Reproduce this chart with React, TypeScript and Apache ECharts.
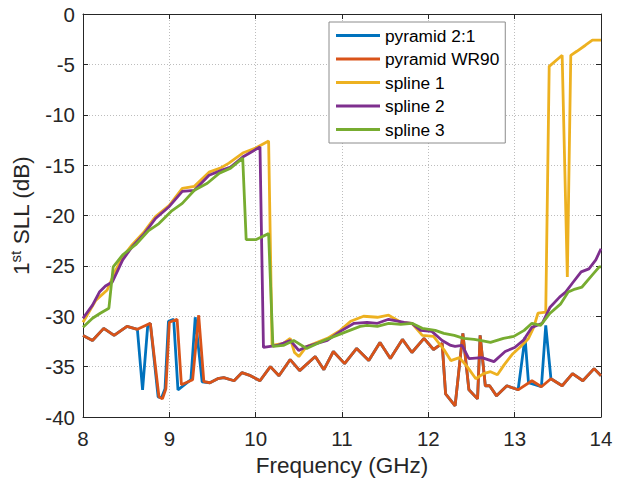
import React, { useEffect, useRef } from "react";
import * as echarts from "echarts";

// ---- data (GHz, dB) ----
const seriesNames = ["pyramid 2:1", "pyramid WR90", "spline 1", "spline 2", "spline 3"];
const seriesColors = ["#0072BD", "#D95319", "#EDB120", "#7E2F8E", "#77AC30"];

const pyr21Freq = [8.00, 8.11, 8.24, 8.36, 8.51, 8.63, 8.69, 8.75, 8.78, 8.87, 8.91, 8.95, 8.99, 9.05, 9.10, 9.25, 9.30, 9.38, 9.47, 9.56, 9.63, 9.75, 9.84, 9.94, 10.05, 10.17, 10.27, 10.40, 10.51, 10.69, 10.79, 10.90, 11.03, 11.17, 11.31, 11.44, 11.56, 11.70, 11.81, 11.95, 12.06, 12.16, 12.20, 12.31, 12.40, 12.47, 12.57, 12.60, 12.66, 12.71, 12.79, 12.91, 13.04, 13.12, 13.16, 13.31, 13.36, 13.42, 13.55, 13.67, 13.79, 13.92, 14.00];
const pyr21Val = [-31.9, -32.4, -31.2, -31.9, -31.0, -31.3, -37.3, -30.9, -30.7, -38.0, -38.1, -37.2, -30.5, -30.3, -37.3, -36.3, -30.1, -36.5, -36.6, -36.2, -36.1, -36.4, -35.6, -35.9, -36.4, -35.0, -35.9, -34.3, -35.4, -34.0, -35.3, -33.5, -34.7, -33.2, -34.4, -32.6, -34.2, -32.3, -33.6, -32.2, -33.3, -32.7, -37.7, -38.9, -31.7, -37.3, -38.2, -31.9, -36.9, -36.9, -37.9, -36.9, -37.3, -32.1, -36.6, -37.0, -30.9, -36.2, -36.9, -35.7, -36.4, -35.2, -35.9];

const pyrWR90Freq = [8.00, 8.11, 8.24, 8.36, 8.51, 8.63, 8.78, 8.88, 8.92, 8.96, 9.00, 9.09, 9.14, 9.27, 9.34, 9.40, 9.47, 9.56, 9.63, 9.75, 9.84, 9.94, 10.05, 10.17, 10.27, 10.40, 10.51, 10.69, 10.79, 10.90, 11.03, 11.17, 11.31, 11.44, 11.56, 11.70, 11.81, 11.95, 12.06, 12.16, 12.20, 12.31, 12.40, 12.47, 12.57, 12.60, 12.66, 12.71, 12.79, 12.91, 13.04, 13.20, 13.31, 13.42, 13.55, 13.67, 13.79, 13.92, 14.00];
const pyrWR90Val = [-31.9, -32.4, -31.2, -31.9, -31.0, -31.3, -30.7, -38.0, -38.2, -37.2, -30.6, -30.3, -36.8, -36.3, -29.9, -36.5, -36.6, -36.2, -36.1, -36.4, -35.6, -35.9, -36.4, -35.0, -35.9, -34.3, -35.4, -34.0, -35.3, -33.5, -34.7, -33.2, -34.4, -32.6, -34.2, -32.3, -33.6, -32.2, -33.3, -32.7, -37.7, -38.9, -31.7, -37.3, -38.2, -31.9, -36.9, -36.9, -37.9, -36.9, -37.3, -36.4, -37.0, -36.2, -36.9, -35.7, -36.4, -35.2, -35.9];

const spline1Freq = [8.00, 8.15, 8.28, 8.38, 8.46, 8.57, 8.71, 8.84, 9.00, 9.15, 9.29, 9.46, 9.59, 9.69, 9.85, 10.00, 10.15, 10.19, 10.32, 10.40, 10.45, 10.50, 10.59, 10.83, 10.98, 11.10, 11.25, 11.41, 11.54, 11.68, 11.81, 11.93, 12.06, 12.18, 12.26, 12.36, 12.45, 12.55, 12.64, 12.72, 12.80, 12.88, 12.97, 13.07, 13.16, 13.22, 13.27, 13.36, 13.40, 13.55, 13.61, 13.65, 13.72, 13.82, 13.90, 14.00];
const spline1Val = [-30.6, -28.4, -27.4, -25.4, -24.1, -22.9, -21.6, -20.1, -19.0, -17.3, -17.1, -15.7, -15.3, -14.8, -13.8, -13.3, -12.6, -32.9, -32.7, -32.2, -33.6, -34.0, -33.0, -32.2, -31.4, -30.5, -30.0, -30.1, -29.9, -30.6, -30.7, -31.9, -32.0, -33.3, -34.4, -34.1, -35.0, -36.2, -35.7, -35.5, -35.8, -34.8, -33.8, -33.0, -32.2, -31.1, -29.7, -29.6, -5.2, -4.1, -26.1, -4.1, -3.7, -3.1, -2.6, -2.6];

const spline2Freq = [8.00, 8.11, 8.19, 8.26, 8.34, 8.46, 8.57, 8.71, 8.84, 9.00, 9.15, 9.29, 9.46, 9.61, 9.71, 9.85, 10.05, 10.09, 10.25, 10.40, 10.50, 10.59, 10.83, 10.98, 11.14, 11.29, 11.41, 11.54, 11.72, 11.81, 11.91, 12.04, 12.16, 12.26, 12.31, 12.39, 12.47, 12.62, 12.76, 12.89, 13.00, 13.10, 13.20, 13.32, 13.41, 13.52, 13.59, 13.67, 13.77, 13.86, 13.94, 14.00];
const spline2Val = [-30.2, -28.9, -27.6, -27.0, -26.6, -24.4, -23.1, -21.8, -20.3, -19.1, -17.6, -17.5, -16.0, -15.5, -15.2, -14.2, -13.2, -33.1, -32.9, -32.4, -33.4, -33.0, -32.4, -31.5, -30.7, -30.6, -30.7, -30.3, -30.6, -30.7, -31.4, -31.5, -32.4, -32.9, -33.0, -32.9, -34.2, -34.1, -34.5, -33.5, -33.1, -32.4, -31.1, -30.7, -29.1, -28.1, -27.6, -26.7, -25.6, -25.3, -24.4, -23.3];

const spline3Freq = [8.00, 8.11, 8.20, 8.30, 8.35, 8.46, 8.61, 8.76, 8.88, 9.02, 9.15, 9.29, 9.44, 9.58, 9.71, 9.85, 9.89, 10.00, 10.15, 10.20, 10.32, 10.44, 10.59, 10.79, 11.06, 11.21, 11.29, 11.41, 11.54, 11.68, 11.81, 11.93, 12.08, 12.18, 12.30, 12.41, 12.53, 12.60, 12.72, 12.87, 12.99, 13.11, 13.20, 13.30, 13.41, 13.53, 13.62, 13.70, 13.78, 13.90, 13.98, 14.00];
const spline3Val = [-31.1, -30.2, -29.7, -29.2, -25.1, -23.9, -22.9, -21.5, -20.8, -19.6, -18.8, -17.5, -16.8, -15.8, -15.3, -14.3, -22.4, -22.4, -21.8, -33.0, -32.9, -32.4, -33.2, -32.4, -31.5, -31.0, -30.9, -31.0, -30.7, -30.8, -30.7, -31.2, -31.4, -31.7, -31.9, -32.2, -32.3, -32.4, -32.6, -32.2, -32.0, -31.4, -30.7, -30.9, -29.7, -28.8, -27.6, -27.3, -27.1, -25.9, -25.1, -25.1];

const xTicks = [8, 9, 10, 11, 12, 13, 14];
const yTicks = [-40, -35, -30, -25, -20, -15, -10, -5, 0];

const allFreq = [pyr21Freq, pyrWR90Freq, spline1Freq, spline2Freq, spline3Freq];
const allVal = [pyr21Val, pyrWR90Val, spline1Val, spline2Val, spline3Val];

const FONT = "Liberation Sans, Arial, Helvetica, sans-serif";
const AXIS_COLOR = "#262626";

export default function App() {
  const ref = useRef<HTMLDivElement>(null);
  useEffect(() => {
    if (!ref.current) return;
    const chart = echarts.init(ref.current, undefined, { renderer: "svg" });
    const xMin = xTicks[0];
    const xMax = xTicks[xTicks.length - 1];
    const yMin = yTicks[0];
    const yMax = yTicks[yTicks.length - 1];
    const baseAxis = {
      axisLine: { show: true, onZero: false, lineStyle: { color: AXIS_COLOR, width: 1 } },
      axisTick: { show: true, inside: true, length: 5, lineStyle: { color: AXIS_COLOR } },
    };
    const option: any = {
      animation: false,
      backgroundColor: "#ffffff",
      grid: { left: 83, right: 27, top: 14, bottom: 65, containLabel: false },
      legend: {
        show: true,
        orient: "vertical",
        left: 329,
        top: 22,
        width: 177,
        padding: [5, 6, 5, 7],
        itemGap: 6.5,
        itemWidth: 44,
        itemHeight: 3,
        icon: "rect",
        selectedMode: false,
        backgroundColor: "#ffffff",
        borderColor: "#8c8c8c",
        borderWidth: 1,
        borderRadius: 0,
        textStyle: { fontFamily: FONT, fontSize: 17.3, color: "#000", lineHeight: 17, padding: [0, 0, 0, 0] },
        data: seriesNames,
      },
      xAxis: [
        {
          ...baseAxis,
          type: "value",
          min: xMin,
          max: xMax,
          interval: 1,
          position: "bottom",
          name: "Frequency (GHz)",
          nameLocation: "middle",
          nameGap: 36,
          nameTextStyle: { fontFamily: FONT, fontSize: 22.5, color: AXIS_COLOR },
          axisLabel: { fontFamily: FONT, fontSize: 20.5, color: AXIS_COLOR, margin: 11 },
          splitLine: { show: true, lineStyle: { color: "#bdbdbd", type: [1, 2], width: 1 } },
        },
        {
          ...baseAxis,
          type: "value",
          min: xMin,
          max: xMax,
          interval: 1,
          position: "top",
          axisLabel: { show: false },
          splitLine: { show: false },
        },
      ],
      yAxis: [
        {
          ...baseAxis,
          type: "value",
          min: yMin,
          max: yMax,
          interval: 5,
          position: "left",
          name: "1{sup|st} SLL (dB)",
          nameLocation: "middle",
          nameGap: 35,
          nameRotate: 90,
          nameTextStyle: {
            fontFamily: FONT,
            fontSize: 22.5,
            color: AXIS_COLOR,
            lineHeight: 26,
            rich: {
              sup: { fontFamily: FONT, fontSize: 15, color: AXIS_COLOR, verticalAlign: "top", lineHeight: 15 },
            },
          },
          axisLabel: { fontFamily: FONT, fontSize: 20.5, color: AXIS_COLOR, margin: 8 },
          splitLine: { show: true, lineStyle: { color: "#bdbdbd", type: [1, 2], width: 1 } },
        },
        {
          ...baseAxis,
          type: "value",
          min: yMin,
          max: yMax,
          interval: 5,
          position: "right",
          axisLabel: { show: false },
          splitLine: { show: false },
        },
      ],
      series: seriesNames.map((name, i) => ({
        name,
        type: "line",
        xAxisIndex: 0,
        yAxisIndex: 0,
        showSymbol: false,
        symbol: "none",
        clip: true,
        color: seriesColors[i],
        lineStyle: { color: seriesColors[i], width: 2.8 },
        data: allFreq[i].map((f, j) => [f, allVal[i][j]]),
      })),
    };
    chart.setOption(option);
    return () => chart.dispose();
  }, []);
  return (
    <div
      ref={ref}
      style={{ position: "fixed", left: 0, top: 0, width: 628, height: 482, background: "#fff" }}
    />
  );
}
